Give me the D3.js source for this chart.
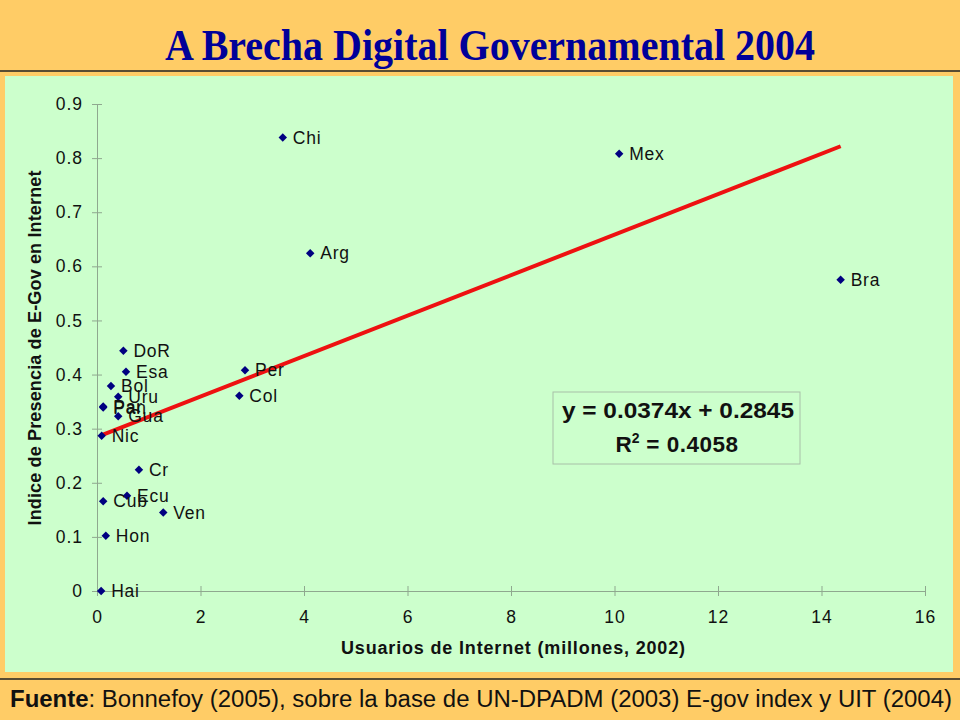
<!DOCTYPE html>
<html><head><meta charset="utf-8">
<script src="https://cdn.jsdelivr.net/npm/d3@7"></script>
<style>body{margin:0;background:#FFCC66}svg{display:block}</style>
</head><body>
<svg id="chart" width="960" height="720"></svg>
<script>
const countries = ["Hai","Hon","Cub","Ven","Ecu","Cr","Nic","Gua","Pan","Par","Uru","Bol","Esa","DoR","Col","Per","Chi","Arg","Mex","Bra"];
const internetUsers = [0.08,0.17,0.12,1.28,0.58,0.81,0.09,0.41,0.12,0.12,0.41,0.27,0.56,0.51,2.75,2.86,3.59,4.12,10.09,14.37];
const egovIndex = [0.0,0.102,0.166,0.145,0.176,0.224,0.287,0.323,0.339,0.341,0.359,0.379,0.405,0.444,0.361,0.408,0.838,0.624,0.808,0.575];
const xTicks = [0,2,4,6,8,10,12,14,16];
const yTicks = [0,0.1,0.2,0.3,0.4,0.5,0.6,0.7,0.8,0.9];
const trendSlope = 0.0374, trendIntercept = 0.2845;
const eqLine1 = "y = 0.0374x + 0.2845";
const eqR2 = "0.4058";

const sans = "Liberation Sans, Arial, sans-serif";
const svg = d3.select("#chart");
svg.append("rect").attr("width",960).attr("height",720).attr("fill","#FFCC66");
// title
svg.append("text").attr("x",490).attr("y",60).attr("text-anchor","middle")
  .attr("font-family","Liberation Serif, Times New Roman, serif").attr("font-weight","bold")
  .attr("font-size",45).attr("fill","#000099")
  .attr("textLength",650).attr("lengthAdjust","spacingAndGlyphs")
  .text("A Brecha Digital Governamental 2004");
svg.append("line").attr("x1",0).attr("x2",960).attr("y1",71).attr("y2",71).attr("stroke","#222").attr("stroke-width",1.5);
// green panel
svg.append("rect").attr("x",5).attr("y",76).attr("width",948).attr("height",596).attr("fill","#CCFFCC");
svg.append("line").attr("x1",0).attr("x2",960).attr("y1",679).attr("y2",679).attr("stroke","#222").attr("stroke-width",1.5);

const x = d3.scaleLinear().domain([0,16]).range([97,925]);
const y = d3.scaleLinear().domain([0,0.9]).range([591,104]);
const axisCol = "#8FA88F";

const gx = svg.append("g").attr("transform","translate(0,591)")
  .call(d3.axisBottom(x).tickValues(xTicks).tickSize(5).tickPadding(15).tickFormat(d3.format("d")));
const gy = svg.append("g").attr("transform","translate(97,0)")
  .call(d3.axisLeft(y).tickValues(yTicks).tickSize(5).tickPadding(9).tickFormat(d=>d===0?"0":d3.format(".1f")(d)));
[gx,gy].forEach(g=>{
  g.select(".domain").attr("stroke",axisCol);
  g.selectAll(".tick line").attr("stroke",axisCol);
  g.selectAll(".tick text").attr("font-family",sans).attr("font-size",17.5).attr("letter-spacing",1).attr("fill","#111");
});
gx.selectAll(".tick line").attr("y1",-5).attr("y2",5);
gy.selectAll(".tick line").attr("x1",5).attr("x2",-5);

// axis titles
svg.append("text").attr("x",513).attr("y",654).attr("text-anchor","middle")
  .attr("font-family",sans).attr("font-weight","bold").attr("font-size",18).attr("fill","#111")
  .attr("textLength",344).attr("lengthAdjust","spacing")
  .text("Usuarios de Internet (millones, 2002)");
svg.append("text").attr("transform","translate(41,348) rotate(-90)").attr("text-anchor","middle")
  .attr("font-family",sans).attr("font-weight","bold").attr("font-size",18).attr("fill","#111")
  .attr("textLength",355).attr("lengthAdjust","spacing")
  .text("Indice de Presencia de E-Gov en Internet");

// trend line
const xMin = d3.min(internetUsers), xMax = d3.max(internetUsers);
svg.append("line").attr("x1",x(xMin)).attr("y1",y(trendSlope*xMin+trendIntercept))
  .attr("x2",x(xMax)).attr("y2",y(trendSlope*xMax+trendIntercept))
  .attr("stroke","#EE1111").attr("stroke-width",4);

// points
const pts = countries.map((c,i)=>({c, x:internetUsers[i], y:egovIndex[i]}));
const sym = d3.symbol().type(d3.symbolSquare).size(36);
svg.append("g").selectAll("path").data(pts).join("path")
  .attr("d",sym).attr("fill","#000080")
  .attr("transform",d=>`translate(${x(d.x)},${y(d.y)}) rotate(45)`);
svg.append("g").selectAll("text").data(pts).join("text")
  .attr("x",d=>x(d.x)+10).attr("y",d=>y(d.y)).attr("dy","0.35em")
  .attr("font-family",sans).attr("font-size",17.5).attr("letter-spacing",0.8).attr("fill","#111")
  .text(d=>d.c);

// equation box
svg.append("rect").attr("x",553).attr("y",392).attr("width",247).attr("height",72)
  .attr("fill","none").attr("stroke","#A8C0A8").attr("stroke-width",1);
const eq = svg.append("g").attr("font-family",sans).attr("font-weight","bold").attr("font-size",22.5).attr("fill","#111");
eq.append("text").attr("x",678).attr("y",418).attr("text-anchor","middle")
  .attr("textLength",232).attr("lengthAdjust","spacingAndGlyphs").text(eqLine1);
const r2 = eq.append("text").attr("x",677).attr("y",452).attr("text-anchor","middle");
r2.append("tspan").text("R");
r2.append("tspan").attr("font-size",14).attr("dy",-9).text("2");
r2.append("tspan").attr("dy",9).attr("letter-spacing",0.5).text(" = " + eqR2);

// footer
const ft = svg.append("text").attr("x",481).attr("y",707).attr("text-anchor","middle")
  .attr("font-family",sans).attr("font-size",23).attr("fill","#111")
  .attr("textLength",942).attr("lengthAdjust","spacingAndGlyphs");
ft.append("tspan").attr("font-weight","bold").text("Fuente");
ft.append("tspan").text(": Bonnefoy (2005), sobre la base de UN-DPADM (2003) E-gov index y UIT (2004)");
</script>
</body></html>
